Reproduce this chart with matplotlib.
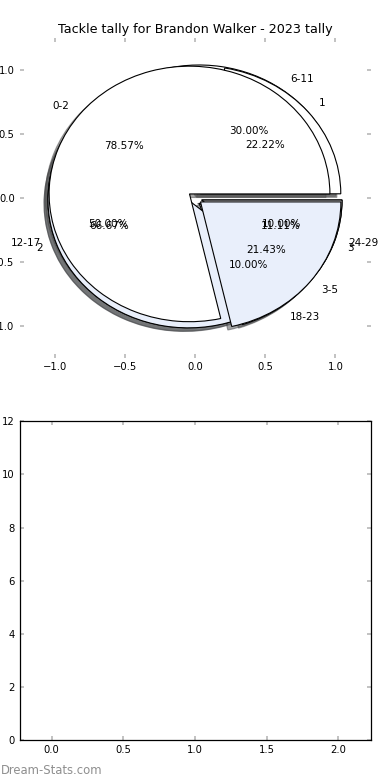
# -*- coding:utf-8 -*-
"""
Tackle tally pie (three overlaid pies) plus an empty companion axes.
"""
import matplotlib

matplotlib.use("Agg")
import matplotlib.pyplot as plt

title = "Tackle tally for Brandon Walker - 2023 tally"

# tackles per game: low vs high
game_labels = ["0-2", "3-5"]
game_counts = [11, 3]

# season tackle ranges
range_labels = ["6-11", "12-17", "18-23", "24-29"]
range_counts = [3, 5, 1, 1]

# solo tackle counts
solo_labels = ["1", "2", "3"]
solo_counts = [2, 6, 1]

pie_ticks = [-1.0, -0.5, 0.0, 0.5, 1.0]
bar_xticks = [0.0, 0.5, 1.0, 1.5, 2.0]
bar_yticks = [0, 2, 4, 6, 8, 10, 12]

wedge_colors = ["white", "#e9effb"]
tick_grey = "#bdbdbd"


def style_ticks(ax):
    ax.tick_params(
        direction="in",
        top=True,
        right=True,
        length=3,
        width=1.3,
        color=tick_grey,
        labelcolor="black",
        labelsize=7.2,
        pad=3.5,
    )


def draw_pie(ax, values, labels):
    colors = [wedge_colors[i % 2] for i in range(len(values))]
    ax.pie(
        values,
        labels=labels,
        colors=colors,
        explode=[0.05] * len(values),
        autopct="%1.2f%%",
        shadow=True,
        frame=True,
        wedgeprops={"edgecolor": "black", "linewidth": 0.8},
        textprops={"fontsize": 7.5},
    )


fig = plt.figure(figsize=(3.9, 7.8), dpi=100)
ax_pie = fig.add_axes([0.05, 0.5415, 0.9, 0.4095])
ax_bar = fig.add_axes([0.05, 0.051, 0.9, 0.409])

draw_pie(ax_pie, range_counts, range_labels)
draw_pie(ax_pie, solo_counts, solo_labels)
draw_pie(ax_pie, game_counts, game_labels)

ax_pie.set_aspect("auto")
ax_pie.set_xlim(-1.25, 1.25)
ax_pie.set_ylim(-1.25, 1.25)
ax_pie.set_xticks(pie_ticks)
ax_pie.set_yticks(pie_ticks)
ax_pie.set_frame_on(False)
style_ticks(ax_pie)
ax_pie.set_title(title, fontsize=9.2, pad=4)

ax_bar.set_xlim(-0.223, 2.223)
ax_bar.set_ylim(0, 12)
ax_bar.set_xticks(bar_xticks)
ax_bar.set_yticks(bar_yticks)
for sp in ax_bar.spines.values():
    sp.set_linewidth(0.9)
style_ticks(ax_bar)

fig.text(0.002, 0.0128, "Dream-Stats.com", color="#8f8f8f", fontsize=8.4,
         ha="left", va="center")

fig.savefig("out.png", dpi=100)
